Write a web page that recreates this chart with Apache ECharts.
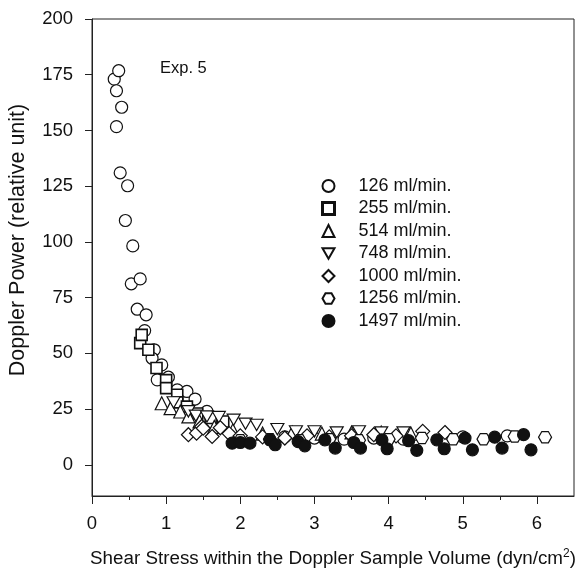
<!DOCTYPE html>
<html><head><meta charset="utf-8">
<script src="https://cdn.jsdelivr.net/npm/echarts@6/dist/echarts.min.js"></script>
<style>html,body{margin:0;padding:0;background:#fff}#c{width:577px;height:572px}</style>
</head><body><div id="c"></div>
<script>
var yTicks = [0, 25, 50, 75, 100, 125, 150, 175, 200];
var xTicks = [0, 1, 2, 3, 4, 5, 6];
var seriesNames = ['126 ml/min.', '255 ml/min.', '514 ml/min.', '748 ml/min.', '1000 ml/min.', '1256 ml/min.', '1497 ml/min.'];
var s126 = [[0.30,173],[0.33,167.8],[0.36,176.8],[0.40,160.4],[0.33,151.7],[0.38,131],[0.48,125.2],[0.45,109.6],[0.55,98.2],[0.53,81.2],[0.65,83.4],[0.61,69.8],[0.73,67.3],[0.71,60.2],[0.84,51.6],[0.81,47.8],[0.94,44.8],[0.88,38.1],[1.03,39.3],[1.15,33.6],[1.28,32.9],[1.39,29.5],[1.55,24],[2.6,12.5],[3.0,12],[3.4,11.5],[3.8,12],[4.2,11.5],[5.0,12.5],[5.6,13]];
var s255 = [[0.65,54.6],[0.67,58.3],[0.76,51.6],[0.87,43.4],[1.0,38],[1.0,34.4],[1.15,31.4],[1.15,28],[1.28,26.1],[1.42,23],[1.6,21],[1.77,19.4]];
var s514 = [[0.94,27.6],[1.06,25.4],[1.19,23.9],[1.30,21.7],[1.45,19.5],[1.65,17],[1.9,15.5],[2.3,14],[2.7,14.5],[3.1,14],[3.5,14.5],[3.9,14.5],[4.3,14]];
var s748 = [[1.10,28],[1.3,24],[1.4,22],[1.55,21.7],[1.71,21.4],[1.91,20.2],[2.07,18.4],[2.22,17.9],[2.5,16],[2.75,15],[3.0,15],[3.3,14.5],[3.6,15],[3.9,14.5],[4.2,14.5]];
var s1000 = [[1.30,13.5],[1.41,14.2],[1.48,17.2],[1.50,16.4],[1.62,12.7],[1.73,16.6],[1.85,14],[2.0,13],[2.3,12.5],[2.6,12],[2.9,13],[3.2,12.5],[3.5,13],[3.8,13.5],[4.1,13],[4.46,15],[4.76,14.5]];
var s1256 = [[2.0,11],[2.4,11.5],[2.8,11],[3.2,11.5],[3.6,11],[4.0,11.5],[4.45,12],[4.87,11.5],[5.28,11.5],[5.70,12.7],[6.11,12.4]];
var s1497 = [[1.89,9.7],[2.0,10],[2.13,9.7],[2.40,11.2],[2.47,9],[2.78,10.4],[2.87,8.5],[3.14,11.2],[3.28,7.5],[3.53,10],[3.62,7.5],[3.91,11.2],[3.98,7.2],[4.27,10.8],[4.38,6.5],[4.65,11.2],[4.75,7.2],[5.03,12],[5.13,6.7],[5.43,12.4],[5.53,7.5],[5.82,13.5],[5.92,6.7]];

var FONT = 'Liberation Sans, Arial, sans-serif';
var downTri = 'path://M0,0 L10,0 L5,8.66 Z';
var hexagon = 'path://M0,4.33 L2.5,0 L7.5,0 L10,4.33 L7.5,8.66 L2.5,8.66 Z';
var dataSets = [s126, s255, s514, s748, s1000, s1256, s1497];
var symbols = ['circle', 'rect', 'triangle', downTri, 'diamond', hexagon, 'circle'];
var sizes = [12, 11, 13, 13, 14, 13, 12];

var series = dataSets.map(function (d, i) {
  var filled = i === 6;
  return {
    name: seriesNames[i], type: 'scatter', data: d,
    symbol: symbols[i], symbolSize: sizes[i], symbolKeepAspect: true,
    itemStyle: { color: filled ? '#111' : '#fff', borderColor: '#111', borderWidth: i === 1 ? 1.6 : 1.2, opacity: 1 },
    emphasis: { disabled: true }, z: 2 + i
  };
});

var chart = echarts.init(document.getElementById('c'), null, { renderer: 'canvas' });
chart.setOption({
  animation: false,
  backgroundColor: '#fff',
  textStyle: { fontFamily: FONT, color: '#111' },
  grid: { left: 92, right: 3, top: 19, bottom: 76, show: true, borderColor: '#222', borderWidth: 1, containLabel: false, outerBoundsMode: 'none' },
  legend: {
    orient: 'vertical', left: 321, top: 177, padding: 0, itemWidth: 12, itemHeight: 12, itemGap: 4.5,
    textStyle: { fontSize: 18, color: '#111', fontFamily: FONT, lineHeight: 18, padding: [0, 0, 0, 19] },
    data: seriesNames.map(function (n, i) {
      return i === 1 ? { name: n, itemStyle: { borderWidth: 3 } } : { name: n };
    }),
    selectedMode: false
  },
  xAxis: {
    type: 'value', min: 0, max: 6.5, interval: 1,
    name: '{t|Shear Stress within the Doppler Sample Volume (dyn/cm}{s|2}{t|)}',
    nameLocation: 'middle', nameGap: 52,
    nameTextStyle: { rich: { t: { fontSize: 18.8, fontFamily: FONT, color: '#111' }, s: { fontSize: 12, fontFamily: FONT, color: '#111', verticalAlign: 'top', padding: [0, 0, 9, 0] } } },
    axisLine: { onZero: false, lineStyle: { color: '#222', width: 1 } },
    axisTick: { show: true, length: 8, lineStyle: { color: '#222' }, customValues: xTicks },
    minorTick: { show: true, splitNumber: 2, length: 4, lineStyle: { color: '#222' } },
    axisLabel: { fontSize: 18.5, color: '#111', margin: 18, customValues: xTicks },
    splitLine: { show: false }
  },
  yAxis: {
    type: 'value', min: -14, max: 200,
    axisLine: { onZero: false, lineStyle: { color: '#222', width: 1 } },
    axisTick: { show: true, length: 7, lineStyle: { color: '#222' }, customValues: yTicks },
    axisLabel: { fontSize: 18.5, color: '#111', margin: 19, customValues: yTicks },
    splitLine: { show: false }
  },
  graphic: [
    { type: 'text', left: 160, top: 60, style: { text: 'Exp. 5', fontSize: 16.5, fontFamily: FONT, fill: '#111' } },
    { type: 'text', x: 18, y: 240, rotation: Math.PI / 2, style: { text: 'Doppler Power (relative unit)', fontSize: 21.5, fontFamily: FONT, fill: '#111', align: 'center', verticalAlign: 'middle' } }
  ],
  series: series
});
</script></body></html>
